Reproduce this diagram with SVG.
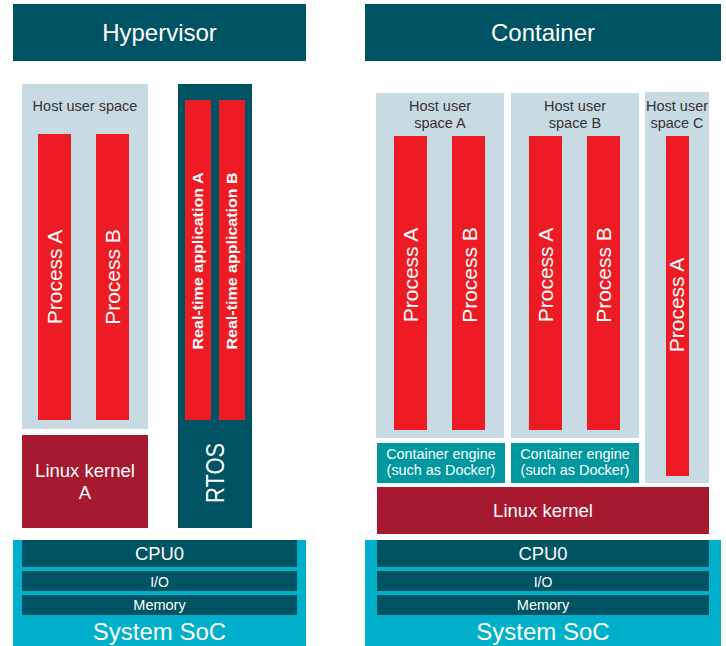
<svg xmlns="http://www.w3.org/2000/svg" width="726" height="646" viewBox="0 0 726 646">
<style>
text{font-family:"Liberation Sans",Arial,sans-serif;}
.hdr{fill:#005362}
.hus{fill:#C8DBE3}
.proc{fill:#ED1C24}
.kern{fill:#A6192E}
.eng{fill:#00979F}
.soc{fill:#00B0CA}
.bar{fill:#005362}
.w{fill:#FFFFFF;text-anchor:middle}
.d{fill:#333333;text-anchor:middle;font-size:14.5px}
.pt{font-size:21px}
.rt{font-size:14px;font-weight:bold}
</style>
<rect width="726" height="646" fill="#FFFFFF"/>

<g id="hypervisor-header">
<rect class="hdr" x="13" y="4" width="293" height="57"/>
<text class="w" x="159.5" y="40.5" font-size="24">Hypervisor</text>
</g>
<g id="container-header">
<rect class="hdr" x="365" y="4" width="356" height="57"/>
<text class="w" x="543" y="40.5" font-size="24">Container</text>
</g>

<!-- Hypervisor side -->
<g id="hyp-host-user-space">
<rect class="hus" x="22" y="84" width="126" height="345"/>
<text class="d" x="85" y="111">Host user space</text>
</g>
<g id="hyp-process-a">
<rect class="proc" x="38" y="134" width="33" height="286"/>
<text class="w pt" transform="translate(62,277) rotate(-90)">Process A</text>
</g>
<g id="hyp-process-b">
<rect class="proc" x="96" y="134" width="33" height="286"/>
<text class="w pt" transform="translate(120,277) rotate(-90)">Process B</text>
</g>
<g id="hyp-linux-kernel">
<rect class="kern" x="22" y="435" width="126" height="93"/>
<text class="w" x="85" y="477" font-size="18.5">Linux kernel</text>
<text class="w" x="85" y="499" font-size="18.5">A</text>
</g>
<g id="rtos">
<rect class="hdr" x="178" y="84" width="74" height="444"/>
<text class="w" transform="translate(224,473) rotate(-90)" font-size="25" textLength="60" lengthAdjust="spacingAndGlyphs">RTOS</text>
</g>
<g id="rt-app-a">
<rect class="proc" x="185" y="100" width="26" height="320"/>
<text class="w rt" transform="translate(202.5,261) rotate(-90)" textLength="177" lengthAdjust="spacingAndGlyphs">Real-time application A</text>
</g>
<g id="rt-app-b">
<rect class="proc" x="219" y="100" width="26" height="320"/>
<text class="w rt" transform="translate(236.5,261) rotate(-90)" textLength="177" lengthAdjust="spacingAndGlyphs">Real-time application B</text>
</g>
<g id="hyp-soc">
<rect class="soc" x="13" y="540" width="293" height="106"/>
<rect class="bar" x="22" y="540" width="275" height="27"/>
<text class="w" x="159.5" y="560" font-size="18.4">CPU0</text>
<rect class="bar" x="22" y="571" width="275" height="20"/>
<text class="w" x="159.5" y="587" font-size="14">I/O</text>
<rect class="bar" x="22" y="595" width="275" height="20"/>
<text class="w" x="159.5" y="609.5" font-size="14.5">Memory</text>
<text class="w" x="159.5" y="640" font-size="24">System SoC</text>
</g>

<!-- Container side -->
<g id="host-user-space-a">
<rect class="hus" x="376" y="93" width="128" height="345"/>
<text class="d" x="440" y="111">Host user</text>
<text class="d" x="440" y="128">space A</text>
</g>
<g id="c-a-process-a">
<rect class="proc" x="394" y="136" width="33" height="294"/>
<text class="w pt" transform="translate(418,275) rotate(-90)">Process A</text>
</g>
<g id="c-a-process-b">
<rect class="proc" x="452" y="136" width="33" height="294"/>
<text class="w pt" transform="translate(476.5,275) rotate(-90)">Process B</text>
</g>
<g id="host-user-space-b">
<rect class="hus" x="511" y="93" width="128" height="345"/>
<text class="d" x="575" y="111">Host user</text>
<text class="d" x="575" y="128">space B</text>
</g>
<g id="c-b-process-a">
<rect class="proc" x="529" y="136" width="33" height="294"/>
<text class="w pt" transform="translate(553,275) rotate(-90)">Process A</text>
</g>
<g id="c-b-process-b">
<rect class="proc" x="587" y="136" width="33" height="294"/>
<text class="w pt" transform="translate(611,275) rotate(-90)">Process B</text>
</g>
<g id="host-user-space-c">
<rect class="hus" x="645" y="92" width="64" height="391"/>
<text class="d" x="677" y="111">Host user</text>
<text class="d" x="677" y="128">space C</text>
</g>
<g id="c-c-process-a">
<rect class="proc" x="666" y="136" width="23" height="340"/>
<text class="w pt" transform="translate(684,305) rotate(-90)">Process A</text>
</g>
<g id="container-engine-a">
<rect class="eng" x="377" y="443" width="128" height="40"/>
<text class="w" x="441" y="459" font-size="14.4">Container engine</text>
<text class="w" x="441" y="475" font-size="14.4">(such as Docker)</text>
</g>
<g id="container-engine-b">
<rect class="eng" x="511" y="443" width="128" height="40"/>
<text class="w" x="575" y="459" font-size="14.4">Container engine</text>
<text class="w" x="575" y="475" font-size="14.4">(such as Docker)</text>
</g>
<g id="container-linux-kernel">
<rect class="kern" x="377" y="487" width="332" height="47"/>
<text class="w" x="543" y="517" font-size="18.5">Linux kernel</text>
</g>
<g id="container-soc">
<rect class="soc" x="365" y="540" width="356" height="106"/>
<rect class="bar" x="377" y="540" width="332" height="27"/>
<text class="w" x="543" y="560" font-size="18.4">CPU0</text>
<rect class="bar" x="377" y="571" width="332" height="20"/>
<text class="w" x="543" y="587" font-size="14">I/O</text>
<rect class="bar" x="377" y="595" width="332" height="20"/>
<text class="w" x="543" y="609.5" font-size="14.5">Memory</text>
<text class="w" x="543" y="640" font-size="24">System SoC</text>
</g>

<g id="connectors"></g>
</svg>
